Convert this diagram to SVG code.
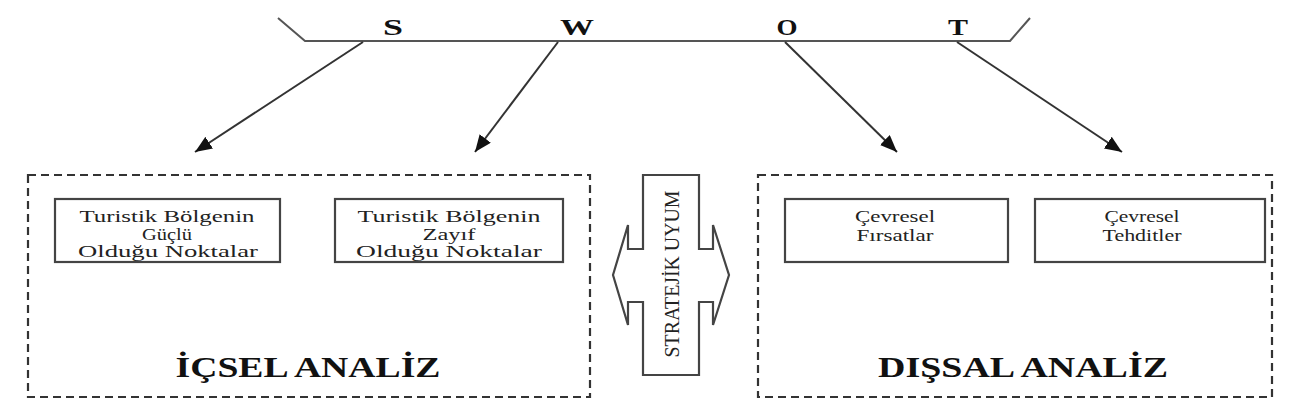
<svg xmlns="http://www.w3.org/2000/svg" width="1299" height="407" viewBox="0 0 1299 407">
<style>
.bg{fill:#ffffff}
.dash{fill:none;stroke:#333;stroke-width:2.2;stroke-dasharray:8,5}
.box{fill:#fff;stroke:#444;stroke-width:2.2}
.conn{fill:none;stroke:#333;stroke-width:2}
.frame{fill:none;stroke:#555;stroke-width:2}
.t{font-family:"Liberation Serif","DejaVu Serif",serif;font-size:16.5px;fill:#222;text-anchor:middle}
.big{font-family:"Liberation Serif","DejaVu Serif",serif;font-size:30px;font-weight:bold;fill:#111;text-anchor:middle}
.let{font-family:"Liberation Serif","DejaVu Serif",serif;font-size:24px;font-weight:bold;fill:#111;text-anchor:middle}
.vt{font-family:"Liberation Serif","DejaVu Serif",serif;font-size:22px;fill:#222;text-anchor:middle}
</style>
<defs>
<marker id="ah" markerUnits="userSpaceOnUse" markerWidth="18" markerHeight="14" refX="17" refY="7" orient="auto">
<path d="M0,0 L17,7 L0,14 z" fill="#111"/>
</marker>
</defs>
<rect class="bg" x="0" y="0" width="1299" height="407"/>

<g id="swot-header">
<polyline class="frame" points="278,18 305,41 1010,41 1030,18"/>
<text class="let" x="393" y="35" textLength="20" lengthAdjust="spacingAndGlyphs">S</text>
<text class="let" x="577" y="35" textLength="34" lengthAdjust="spacingAndGlyphs">W</text>
<text class="let" x="787" y="35" textLength="21" lengthAdjust="spacingAndGlyphs">O</text>
<text class="let" x="958" y="35" textLength="20" lengthAdjust="spacingAndGlyphs">T</text>
</g>

<g id="connectors">
<line class="conn" x1="363" y1="42" x2="195" y2="152" marker-end="url(#ah)"/>
<line class="conn" x1="558" y1="42" x2="475" y2="152" marker-end="url(#ah)"/>
<line class="conn" x1="785" y1="42" x2="897" y2="152" marker-end="url(#ah)"/>
<line class="conn" x1="957" y1="42" x2="1122" y2="152" marker-end="url(#ah)"/>
</g>

<g id="icsel-analiz">
<rect class="dash" x="28" y="175" width="562" height="222"/>
<text class="big" x="308" y="377" textLength="265" lengthAdjust="spacingAndGlyphs">İÇSEL ANALİZ</text>
</g>

<g id="guclu">
<rect class="box" x="55" y="199" width="225" height="63"/>
<text class="t" x="167" y="222" textLength="175" lengthAdjust="spacingAndGlyphs">Turistik Bölgenin</text>
<text class="t" x="167" y="239.5" textLength="50" lengthAdjust="spacingAndGlyphs">Güçlü</text>
<text class="t" x="168" y="257" textLength="180" lengthAdjust="spacingAndGlyphs">Olduğu Noktalar</text>
</g>

<g id="zayif">
<rect class="box" x="335" y="199" width="228" height="63"/>
<text class="t" x="449" y="222" textLength="183" lengthAdjust="spacingAndGlyphs">Turistik Bölgenin</text>
<text class="t" x="449" y="239.5" textLength="53" lengthAdjust="spacingAndGlyphs">Zayıf</text>
<text class="t" x="449" y="257" textLength="186" lengthAdjust="spacingAndGlyphs">Olduğu Noktalar</text>
</g>

<g id="stratejik-uyum">
<polygon class="box" points="643,175 699,175 699,249 713,249 713,225 729,275 713,325 713,302 699,302 699,375 643,375 643,302 628,302 628,325 613,275 628,225 628,249 643,249"/>
<text class="vt" transform="translate(679,274) rotate(-90)" textLength="167" lengthAdjust="spacingAndGlyphs">STRATEJİK UYUM</text>
</g>

<g id="dissal-analiz">
<rect class="dash" x="758" y="175" width="514" height="222"/>
<text class="big" x="1023" y="377" textLength="290" lengthAdjust="spacingAndGlyphs">DIŞSAL ANALİZ</text>
</g>

<g id="firsatlar">
<rect class="box" x="785" y="199" width="223" height="63"/>
<text class="t" x="895" y="222" textLength="80" lengthAdjust="spacingAndGlyphs">Çevresel</text>
<text class="t" x="895" y="241" textLength="77" lengthAdjust="spacingAndGlyphs">Fırsatlar</text>
</g>

<g id="tehditler">
<rect class="box" x="1035" y="199" width="230" height="63"/>
<text class="t" x="1142" y="222" textLength="75" lengthAdjust="spacingAndGlyphs">Çevresel</text>
<text class="t" x="1142" y="241" textLength="79" lengthAdjust="spacingAndGlyphs">Tehditler</text>
</g>
</svg>
